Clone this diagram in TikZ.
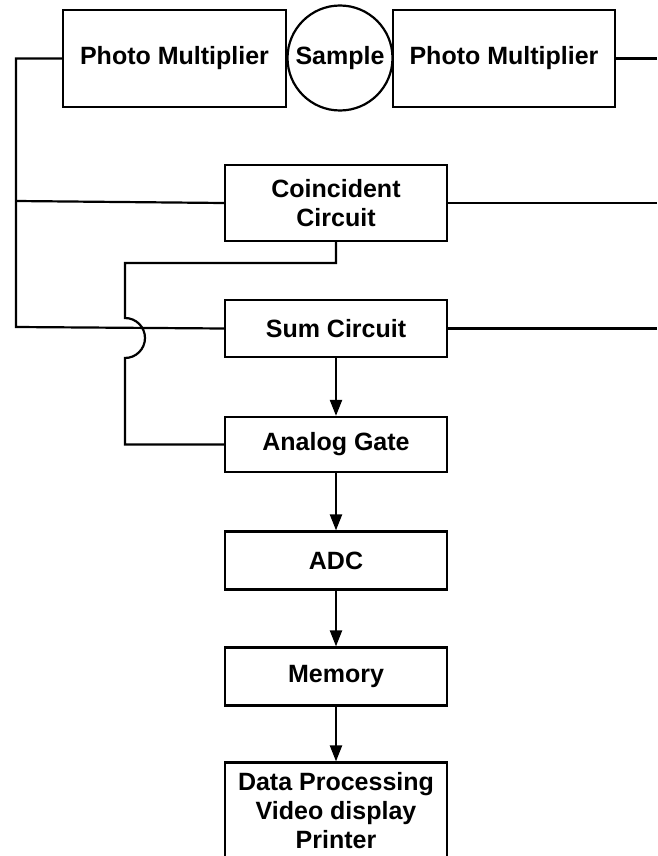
\documentclass[tikz,border=0pt]{standalone}
\usepackage{fontspec}
\setmainfont{Liberation Sans}
\usetikzlibrary{arrows.meta}

\begin{document}
\begin{tikzpicture}[x=1pt,y=-1pt,line width=2.2pt,node distance=116pt,
  >={Triangle[length=16pt,width=12pt]},
  block/.style={draw,rectangle,minimum width=222pt,minimum height=57pt,inner sep=0pt,
    align=center,font=\bfseries\fontsize{25}{29}\selectfont}]

\useasboundingbox (0,0) rectangle (657,856);
\clip (0,0) rectangle (657,856);

\node[block,minimum width=223pt,minimum height=97pt](pml) at (174.5,58.5){Photo Multiplier};
\node[draw,circle,minimum size=105pt,inner sep=0pt,font=\bfseries\fontsize{25}{29}\selectfont](smp) at (340,58){Sample};
\node[block,minimum width=222pt,minimum height=97pt](pmr) at (504,58.5){Photo Multiplier};

\node[block,minimum height=76pt](coin) at (336,203){Coincident\\Circuit};
\node[block](sum) at (336,328.5){Sum Circuit};
\node[block,minimum height=55pt](gate)[below of=sum]{Analog Gate};
\node[block,minimum height=58pt](adc)[below of=gate]{ADC};
\node[block,minimum height=58pt](mem)[below of=adc]{Memory};
\node[block,minimum height=96pt](dat)[below of=mem,yshift=-18pt]{Data Processing\\Video display\\Printer};

\coordinate (ltop) at (16,58.5);
\coordinate (lmid) at (16,201);
\coordinate (lbot) at (16,327);
\coordinate (rtop) at (657,58.5);
\coordinate (rmid) at (657,203);
\coordinate (rbot) at (657,328.5);
\coordinate (gturn) at (336,263);
\coordinate (gcorner) at (125,263);
\coordinate (hop) at (125,318);
\coordinate (gbot) at (125,444.5);

% left and right outputs of the photo multipliers
\draw (pml.west) -- (ltop) -- (lbot) -- (sum.west);
\draw (lmid) -- (coin.west);
\draw (pmr.east) -- (rtop);
\draw (coin.east) -- (rmid);
\draw (sum.east) -- (rbot);

% gate signal, hopping over the sum line
\draw (coin.south) -- (gturn) -- (gcorner) -- (hop)
  arc[start angle=90,end angle=-90,radius=20pt] -- (gbot) -- (gate.west);

\draw[->] (sum) -- (gate);
\draw[->] (gate) -- (adc);
\draw[->] (adc) -- (mem);
\draw[->] (mem) -- (dat);

\end{tikzpicture}
\end{document}
